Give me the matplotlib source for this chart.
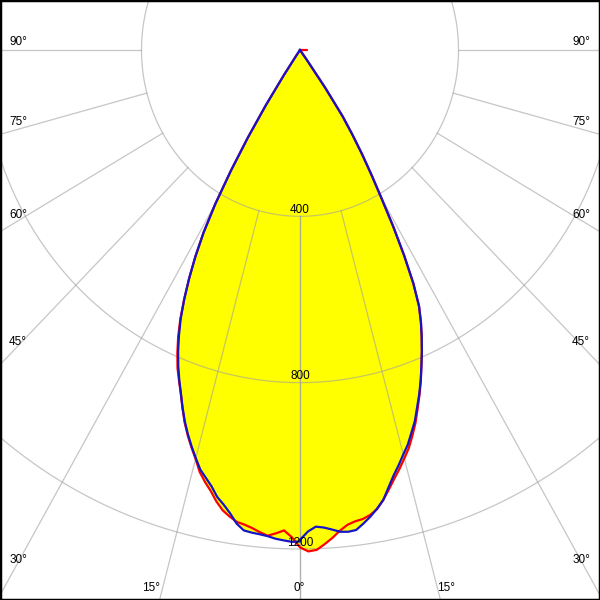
import numpy as np
import matplotlib
matplotlib.use('Agg')
from matplotlib import pyplot as plt
from matplotlib.patches import Rectangle

plt.rcParams['font.family'] = ['Liberation Sans', 'DejaVu Sans']

# gamma angles (deg from nadir), same grid for every half plane
gamma = list(range(0, 41)) + list(range(45, 91, 5))

# intensities (cd)
blue_right = [1178, 1158, 1147, 1150, 1156, 1163, 1165, 1163, 1150, 1136,
              1120, 1102, 1075, 1050, 1029, 1007, 987, 962, 938, 908,
              880, 850, 818, 787, 755, 722, 685, 630, 560, 485,
              410, 350, 296, 243, 192, 112, 28, 0, 0, 0, 0,
              0, 0, 0, 0, 0, 0, 0, 0, 0, 0]
blue_left = [1182, 1183, 1180, 1177, 1172, 1169, 1167, 1164, 1150, 1128,
             1110, 1095, 1073, 1056, 1040, 1016, 992, 967, 940, 910,
             879, 850, 820, 787, 751, 712, 666, 616, 562, 502,
             428, 338, 248, 158, 72, 16, 0, 0, 0, 0, 0,
             0, 0, 0, 0, 0, 0, 0, 0, 0, 0]
red_right = [1196, 1206, 1203, 1190, 1176, 1160, 1148, 1142, 1139, 1132,
             1121, 1102, 1080, 1058, 1038, 1017, 996, 970, 943, 912,
             882, 851, 818, 787, 755, 722, 685, 630, 560, 485,
             410, 350, 296, 243, 192, 112, 28, 0, 0, 0, 0,
             0, 0, 0, 0, 0, 0, 0, 0, 0, 17]
red_left = [1196, 1172, 1156, 1164, 1171, 1164, 1156, 1150, 1146, 1136,
            1124, 1106, 1084, 1066, 1046, 1018, 994, 969, 942, 911,
            879, 852, 825, 792, 756, 715, 667, 616, 562, 502,
            428, 338, 248, 158, 72, 16, 0, 0, 0, 0, 0,
            0, 0, 0, 0, 0, 0, 0, 0, 0, 0]

rings = [400, 800, 1200]
spokes = [0, 15, 30, 45, 60, 75, 90]


def to_xy(left, right):
    g = np.array(gamma, dtype=float)
    th = np.radians(np.concatenate([-g[::-1], g]))
    r = np.concatenate([np.array(left)[::-1], np.array(right)])
    return r * np.sin(th), -r * np.cos(th)


fig = plt.figure(figsize=(6, 6), dpi=100)
ax = fig.add_axes([0, 0, 1, 1])
ax.set_xlim(-757, 757)
ax.set_ylim(-1322.7, 120.3)
ax.axis('off')

curves = [(red_left, red_right, '#ff0000'), (blue_left, blue_right, '#1414c8')]

for left, right, col in curves:
    x, y = to_xy(left, right)
    ax.fill(x, y, color='#ffff00', lw=0, zorder=1)

grid_kw = dict(color='#a0a0a0', lw=0.9, alpha=0.6, zorder=2)
t = np.linspace(0, 2 * np.pi, 721)
for r in rings:
    ax.plot(r * np.cos(t), r * np.sin(t), **grid_kw)
for a in spokes:
    for s in (-1, 1):
        th = np.radians(s * a)
        ax.plot([400 * np.sin(th), 2200 * np.sin(th)],
                [-400 * np.cos(th), -2200 * np.cos(th)], **grid_kw)

for left, right, col in curves:
    x, y = to_xy(left, right)
    ax.plot(x, y, color=col, lw=1.6, zorder=3, solid_joinstyle='round')

for r in rings:
    ax.annotate(str(r), xy=(0, -r), xytext=(0, 4.5), textcoords='offset points',
                ha='center', va='center', fontsize=8.5, zorder=5)

# angle labels, pixel positions along the frame
side_lbl = [('90°', 42), ('75°', 122), ('60°', 215), ('45°', 342), ('30°', 560)]
for txt, py in side_lbl:
    fig.text(18 / 600, 1 - py / 600, txt, ha='center', va='center', fontsize=8.5)
    fig.text(581 / 600, 1 - py / 600, txt, ha='center', va='center', fontsize=8.5)
for txt, px in [('15°', 151), ('0°', 299), ('15°', 446)]:
    fig.text(px / 600, 1 - 588 / 600, txt, ha='center', va='center', fontsize=8.5)

fig.patches.append(Rectangle((0, 0), 1, 1, transform=fig.transFigure,
                             fill=False, edgecolor='black', lw=2.5))

fig.savefig('out.png', dpi=100)
